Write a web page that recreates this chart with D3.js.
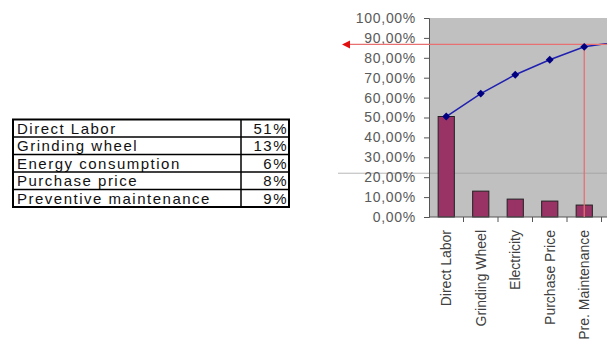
<!DOCTYPE html>
<html>
<head>
<meta charset="utf-8">
<script src="https://cdn.jsdelivr.net/npm/d3@7"></script>
<style>
  body { margin: 0; background: #fff; }
  svg { display: block; }
</style>
</head>
<body>
<svg class="plot" width="607" height="342"></svg>
<script>
// table on the left
const tableItems = ["Direct Labor", "Grinding wheel", "Energy consumption", "Purchase price", "Preventive maintenance"]
const tableShares = ["51%", "13%", "6%", "8%", "9%"]

// pareto chart (last category is cut off by the picture edge)
const categories = ["Direct Labor", "Grinding Wheel", "Electricity", "Purchase Price", "Pre. Maintenance", ""]
const shares = [0.505, 0.13, 0.09, 0.08, 0.06, 0.03]
const cumulative = [0.505, 0.62, 0.715, 0.79, 0.855, 0.88]
const yTicks = [0, 0.1, 0.2, 0.3, 0.4, 0.5, 0.6, 0.7, 0.8, 0.9, 1.0]
const cutoffLevel = 0.867
const cutoffCategory = "Pre. Maintenance"
const guideLevel = 0.22

function render() {
  const svg = d3.select(".plot");

  // ---- table ----
  const tX = 13, tY = 119.5, rowH = 17.5, col1 = 241, tR = 289;
  const table = svg.append("g");
  tableItems.forEach((name, i) => {
    const y0 = tY + i * rowH;
    if (i > 0) {
      table.append("line")
        .attr("x1", tX).attr("x2", tR)
        .attr("y1", y0).attr("y2", y0)
        .attr("stroke", "#000").attr("stroke-width", 1.5);
    }
    table.append("text")
      .attr("x", tX + 4)
      .attr("y", y0 + rowH - 3.5)
      .style("font-family", "'Liberation Sans', Arial, sans-serif")
      .style("font-size", "15px")
      .style("letter-spacing", "1.5px")
      .attr("fill", "#111")
      .text(name);
    table.append("text")
      .attr("x", tR - 1)
      .attr("y", y0 + rowH - 3.5)
      .attr("text-anchor", "end")
      .style("font-family", "'Liberation Sans', Arial, sans-serif")
      .style("font-size", "15px")
      .style("letter-spacing", "1.5px")
      .attr("fill", "#111")
      .text(tableShares[i]);
  });
  table.append("line")
    .attr("x1", col1).attr("x2", col1)
    .attr("y1", tY).attr("y2", tY + rowH * tableItems.length)
    .attr("stroke", "#000").attr("stroke-width", 1.5);
  table.append("rect")
    .attr("x", tX).attr("y", tY)
    .attr("width", tR - tX).attr("height", rowH * tableItems.length)
    .attr("fill", "none").attr("stroke", "#000").attr("stroke-width", 2);

  // ---- chart ----
  const left = 429, top = 18, bottom = 217, step = 34.5;

  const x = d3.scaleBand()
    .domain(categories)
    .range([left, left + step * categories.length]);

  const y = d3.scaleLinear()
    .domain([0, 1])
    .range([bottom, top]);

  // plot background
  svg.append("rect")
    .attr("x", left).attr("y", top)
    .attr("width", 607 - left).attr("height", bottom - top)
    .attr("fill", "#c0c0c0");

  // faint guide line
  svg.append("line")
    .attr("x1", 338).attr("x2", 607)
    .attr("y1", y(guideLevel)).attr("y2", y(guideLevel))
    .attr("stroke", "#9a9a9a").attr("stroke-width", 1)
    .attr("opacity", 0.7);

  // y axis
  const fmt = d => d3.format(".2f")(d * 100).replace(".", ",") + "%";
  const yAxis = svg.append("g")
    .attr("transform", `translate(${left},0)`)
    .call(d3.axisLeft(y).tickValues(yTicks).tickFormat(fmt).tickSize(5).tickPadding(8));
  yAxis.select(".domain").attr("stroke", "#555");
  yAxis.selectAll(".tick line").attr("stroke", "#555");
  yAxis.selectAll(".tick text")
    .attr("fill", "#5a5a5a")
    .style("font-family", "'Liberation Sans', Arial, sans-serif")
    .style("font-size", "14px")
    .style("letter-spacing", "0.7px");

  // bars
  const barW = x.bandwidth() * 0.47;
  svg.selectAll(".bar")
    .data(categories)
    .enter().append("rect")
    .attr("class", "bar")
    .attr("x", d => x(d) + (x.bandwidth() - barW) / 2)
    .attr("y", (d, i) => y(shares[i]))
    .attr("width", barW)
    .attr("height", (d, i) => y(0) - y(shares[i]))
    .attr("fill", "#993366")
    .attr("stroke", "#222")
    .attr("stroke-width", 1);

  // x axis
  svg.append("line")
    .attr("x1", left).attr("x2", 607)
    .attr("y1", bottom).attr("y2", bottom)
    .attr("stroke", "#555");
  svg.selectAll(".xtick")
    .data(categories)
    .enter().append("line")
    .attr("class", "xtick")
    .attr("x1", d => x(d) + x.bandwidth()).attr("x2", d => x(d) + x.bandwidth())
    .attr("y1", bottom).attr("y2", bottom + 5)
    .attr("stroke", "#555");

  svg.selectAll(".xlabel")
    .data(categories)
    .enter().append("text")
    .attr("class", "xlabel")
    .attr("transform", d => `translate(${x(d) + x.bandwidth() / 2 + 5},230) rotate(-90)`)
    .attr("text-anchor", "end")
    .attr("fill", "#404040")
    .style("font-family", "'Liberation Sans', Arial, sans-serif")
    .style("font-size", "14px")
    .text(d => d);

  // cumulative line
  const line = d3.line()
    .x((d, i) => x(categories[i]) + x.bandwidth() / 2)
    .y(d => y(d));
  svg.append("path")
    .datum(cumulative)
    .attr("fill", "none")
    .attr("stroke", "#2020b0")
    .attr("stroke-width", 1.5)
    .attr("d", line);

  // red cutoff lines
  const cx = x(cutoffCategory) + x.bandwidth() / 2;
  svg.append("line")
    .attr("x1", 344).attr("x2", 607)
    .attr("y1", y(cutoffLevel)).attr("y2", y(cutoffLevel))
    .attr("stroke", "#e87070").attr("stroke-width", 1.3);
  svg.append("line")
    .attr("x1", cx).attr("x2", cx)
    .attr("y1", y(cutoffLevel)).attr("y2", y(0))
    .attr("stroke", "#e87070").attr("stroke-width", 1.3);
  const ay = y(cutoffLevel);
  svg.append("path")
    .attr("d", `M342,${ay} L350,${ay - 4} L350,${ay + 4} Z`)
    .attr("fill", "#e01010");

  // diamond markers
  svg.selectAll(".mark")
    .data(cumulative)
    .enter().append("path")
    .attr("class", "mark")
    .attr("d", d3.symbol().type(d3.symbolDiamond2).size(40))
    .attr("transform", (d, i) => `translate(${x(categories[i]) + x.bandwidth() / 2},${y(d)})`)
    .attr("fill", "#000080");
}

window.addEventListener('load', render);
</script>
</body>
</html>
